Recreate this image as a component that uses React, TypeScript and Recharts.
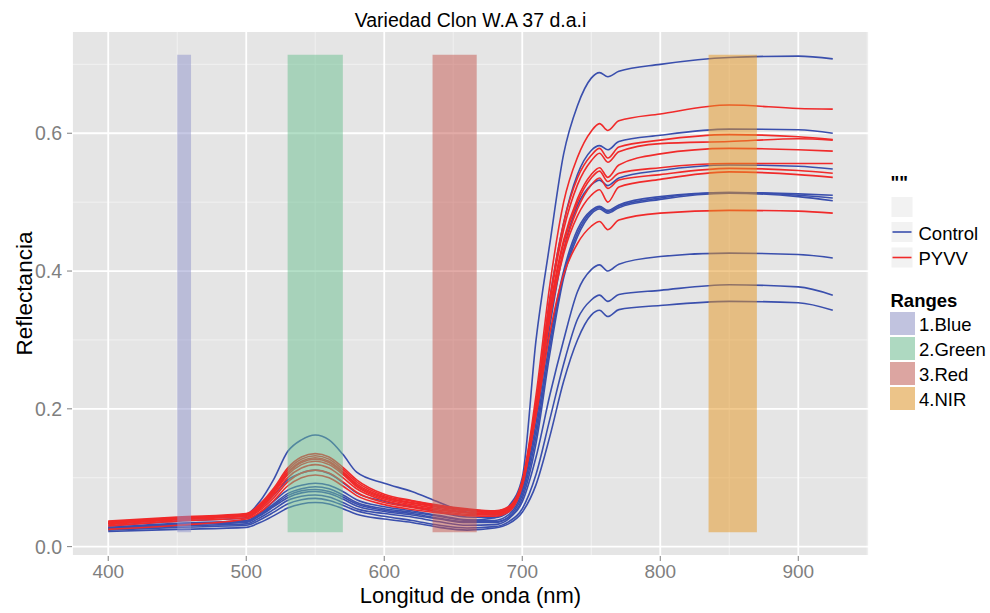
import { CartesianGrid, Line, LineChart, ReferenceArea, XAxis, YAxis } from "recharts";

const WAVELENGTHS = [
	400, 450, 500, 510, 520, 530, 540, 550, 560, 570, 580, 600, 620, 640, 660, 680,
	690, 700, 710, 720, 730, 740, 750, 756, 762, 770, 800, 850, 900, 925,
];

// Control plants
const CONTROL_1 = [
	0.028, 0.034, 0.038, 0.048, 0.062, 0.077, 0.084, 0.087, 0.084, 0.075, 0.064, 0.055, 0.05, 0.044, 0.038, 0.042,
	0.058, 0.1, 0.3, 0.44, 0.57, 0.64, 0.68, 0.688, 0.682, 0.69, 0.7, 0.71, 0.712, 0.708,
];
const CONTROL_2 = [
	0.034, 0.04, 0.047, 0.066, 0.098, 0.138, 0.155, 0.162, 0.155, 0.134, 0.108, 0.092, 0.08, 0.064, 0.05, 0.046,
	0.052, 0.09, 0.2, 0.36, 0.47, 0.54, 0.575, 0.582, 0.576, 0.588, 0.597, 0.606, 0.605, 0.6,
];
const CONTROL_3 = [
	0.03, 0.037, 0.042, 0.056, 0.075, 0.097, 0.107, 0.111, 0.106, 0.093, 0.078, 0.066, 0.058, 0.05, 0.043, 0.042,
	0.05, 0.085, 0.18, 0.32, 0.43, 0.495, 0.525, 0.532, 0.524, 0.535, 0.546, 0.554, 0.552, 0.548,
];
const CONTROL_4 = [
	0.027, 0.033, 0.037, 0.049, 0.066, 0.082, 0.089, 0.092, 0.089, 0.08, 0.068, 0.058, 0.052, 0.045, 0.039, 0.038,
	0.046, 0.08, 0.17, 0.3, 0.4, 0.46, 0.488, 0.494, 0.488, 0.496, 0.508, 0.514, 0.512, 0.51,
];
const CONTROL_5 = [
	0.026, 0.032, 0.035, 0.045, 0.058, 0.071, 0.078, 0.08, 0.077, 0.069, 0.059, 0.051, 0.046, 0.04, 0.035, 0.035,
	0.043, 0.075, 0.16, 0.29, 0.395, 0.455, 0.486, 0.492, 0.486, 0.494, 0.506, 0.514, 0.51, 0.506,
];
const CONTROL_6 = [
	0.025, 0.03, 0.033, 0.042, 0.054, 0.067, 0.073, 0.075, 0.072, 0.064, 0.055, 0.048, 0.043, 0.036, 0.031, 0.032,
	0.04, 0.07, 0.15, 0.28, 0.39, 0.45, 0.483, 0.49, 0.484, 0.492, 0.504, 0.513, 0.508, 0.502,
];
const CONTROL_7 = [
	0.027, 0.032, 0.036, 0.046, 0.06, 0.074, 0.081, 0.083, 0.08, 0.072, 0.062, 0.053, 0.048, 0.041, 0.036, 0.036,
	0.042, 0.065, 0.13, 0.22, 0.3, 0.37, 0.402, 0.409, 0.4, 0.41, 0.421, 0.426, 0.424, 0.419,
];
const CONTROL_8 = [
	0.024, 0.028, 0.031, 0.039, 0.05, 0.062, 0.068, 0.07, 0.067, 0.06, 0.052, 0.044, 0.038, 0.031, 0.027, 0.029,
	0.036, 0.055, 0.105, 0.185, 0.265, 0.33, 0.358, 0.365, 0.356, 0.366, 0.372, 0.38, 0.377, 0.365,
];
const CONTROL_9 = [
	0.022, 0.025, 0.028, 0.035, 0.045, 0.056, 0.062, 0.064, 0.062, 0.055, 0.047, 0.04, 0.035, 0.028, 0.024, 0.027,
	0.033, 0.05, 0.09, 0.16, 0.24, 0.3, 0.336, 0.343, 0.334, 0.344, 0.35, 0.356, 0.354, 0.343,
];

// PYVV infected plants
const PYVV_1 = [
	0.037, 0.043, 0.048, 0.062, 0.085, 0.114, 0.13, 0.135, 0.13, 0.115, 0.097, 0.076, 0.067, 0.06, 0.055, 0.052,
	0.058, 0.095, 0.22, 0.38, 0.5, 0.565, 0.603, 0.614, 0.604, 0.618, 0.628, 0.641, 0.636, 0.635,
];
const PYVV_2 = [
	0.036, 0.042, 0.047, 0.06, 0.083, 0.111, 0.127, 0.132, 0.127, 0.112, 0.094, 0.074, 0.066, 0.059, 0.054, 0.051,
	0.057, 0.095, 0.21, 0.36, 0.47, 0.535, 0.568, 0.578, 0.564, 0.58, 0.59, 0.598, 0.595, 0.591,
];
const PYVV_3 = [
	0.035, 0.041, 0.046, 0.059, 0.081, 0.108, 0.124, 0.129, 0.124, 0.109, 0.091, 0.072, 0.064, 0.058, 0.053, 0.05,
	0.056, 0.094, 0.205, 0.355, 0.46, 0.525, 0.56, 0.571, 0.558, 0.573, 0.585, 0.588, 0.592, 0.59,
];
const PYVV_4 = [
	0.034, 0.041, 0.046, 0.058, 0.08, 0.106, 0.122, 0.127, 0.122, 0.107, 0.089, 0.071, 0.063, 0.057, 0.052, 0.049,
	0.055, 0.092, 0.2, 0.345, 0.445, 0.505, 0.54, 0.55, 0.536, 0.554, 0.57, 0.578, 0.576, 0.574,
];
const PYVV_5 = [
	0.033, 0.04, 0.045, 0.057, 0.078, 0.104, 0.119, 0.124, 0.119, 0.105, 0.087, 0.069, 0.061, 0.055, 0.05, 0.048,
	0.054, 0.092, 0.2, 0.34, 0.44, 0.5, 0.535, 0.545, 0.53, 0.542, 0.55, 0.556, 0.556, 0.556,
];
const PYVV_6 = [
	0.032, 0.039, 0.044, 0.055, 0.075, 0.1, 0.114, 0.119, 0.114, 0.1, 0.084, 0.067, 0.059, 0.053, 0.049, 0.047,
	0.053, 0.09, 0.195, 0.335, 0.43, 0.49, 0.525, 0.535, 0.52, 0.532, 0.54, 0.549, 0.546, 0.542,
];
const PYVV_7 = [
	0.03, 0.037, 0.042, 0.053, 0.071, 0.094, 0.107, 0.111, 0.107, 0.094, 0.079, 0.064, 0.057, 0.051, 0.047, 0.046,
	0.052, 0.09, 0.195, 0.33, 0.425, 0.48, 0.51, 0.518, 0.5, 0.522, 0.533, 0.544, 0.54, 0.536,
];
const PYVV_8 = [
	0.025, 0.031, 0.04, 0.05, 0.067, 0.088, 0.1, 0.104, 0.1, 0.088, 0.074, 0.061, 0.054, 0.049, 0.045, 0.044,
	0.05, 0.088, 0.19, 0.31, 0.395, 0.44, 0.465, 0.472, 0.46, 0.474, 0.484, 0.488, 0.487, 0.484,
];

const GROUPS = ["Control", "PYVV"];
const GROUP_COLORS = ["#3a4fad", "#f02a2a"];

const SERIES = [
	...[CONTROL_1, CONTROL_2, CONTROL_3, CONTROL_4, CONTROL_5, CONTROL_6, CONTROL_7, CONTROL_8, CONTROL_9].map(
		(values, i) => ({ key: `control${i + 1}`, group: 0, values }),
	),
	...[PYVV_1, PYVV_2, PYVV_3, PYVV_4, PYVV_5, PYVV_6, PYVV_7, PYVV_8].map((values, i) => ({
		key: `pyvv${i + 1}`,
		group: 1,
		values,
	})),
];

// spectral ranges
const RANGE_NAMES = ["1.Blue", "2.Green", "3.Red", "4.NIR"];
const RANGE_FROM = [450, 530, 635, 835];
const RANGE_TO = [460, 570, 667, 870];
const RANGE_COLORS = ["#9094cc", "#6ac090", "#c65850", "#e69620"];
const RANGE_LOW = 0.021;
const RANGE_HIGH = 0.714;

const X_TICKS = [400, 500, 600, 700, 800, 900];
const X_MINOR = [450, 550, 650, 750, 850, 950];
const Y_TICKS = [0, 0.2, 0.4, 0.6];
const Y_MINOR = [0.1, 0.3, 0.5, 0.7];
const X_DOMAIN: [number, number] = [373.75, 951.25];
const Y_DOMAIN: [number, number] = [-0.0136, 0.7484];

const FONT = '"Liberation Sans", Arial, sans-serif';
const TICK_STYLE = { fill: "#7f7f7f", fontSize: 19, fontFamily: FONT };

export default function App() {
	const data = WAVELENGTHS.map((wl, i) => {
		const row: Record<string, number> = { wl };
		SERIES.forEach((s) => {
			row[s.key] = s.values[i];
		});
		return row;
	});

	return (
		<div
			style={{
				position: "absolute",
				left: 0,
				top: 0,
				width: 990,
				height: 613,
				background: "#ffffff",
				fontFamily: FONT,
			}}
		>
			<LineChart
				data={data}
				height={613}
				margin={{ top: 31, right: 121, bottom: 17, left: 12 }}
				width={990}
			>
				<XAxis
					allowDataOverflow
					dataKey="wl"
					domain={X_DOMAIN}
					hide
					ticks={X_MINOR}
					type="number"
					xAxisId="minor"
				/>
				<YAxis allowDataOverflow domain={Y_DOMAIN} hide ticks={Y_MINOR} type="number" yAxisId="minor" />
				<CartesianGrid fill="#e5e5e5" stroke="#f3f3f3" strokeWidth={0.9} xAxisId="minor" yAxisId="minor" />
				<CartesianGrid stroke="#ffffff" strokeWidth={1.8} />
				<XAxis
					allowDataOverflow
					axisLine={false}
					dataKey="wl"
					domain={X_DOMAIN}
					height={40}
					interval={0}
					tick={TICK_STYLE}
					tickLine={{ stroke: "#7f7f7f" }}
					tickMargin={4}
					tickSize={5}
					ticks={X_TICKS}
					type="number"
				/>
				<YAxis
					allowDataOverflow
					axisLine={false}
					domain={Y_DOMAIN}
					interval={0}
					tick={{ ...TICK_STYLE, fontSize: 19.5 }}
					tickFormatter={(v: number) => v.toFixed(1)}
					tickLine={{ stroke: "#7f7f7f" }}
					tickMargin={5}
					tickSize={5}
					ticks={Y_TICKS}
					type="number"
					width={60}
				/>
				{SERIES.map((s) => (
					<Line
						dataKey={s.key}
						dot={false}
						isAnimationActive={false}
						key={s.key}
						stroke={GROUP_COLORS[s.group]}
						strokeWidth={1.6}
						type="monotone"
					/>
				))}
				{RANGE_NAMES.map((name, i) => (
					<ReferenceArea
						fill={RANGE_COLORS[i]}
						fillOpacity={0.5}
						ifOverflow="visible"
						key={name}
						stroke="none"
						x1={RANGE_FROM[i]}
						x2={RANGE_TO[i]}
						y1={RANGE_LOW}
						y2={RANGE_HIGH}
						zIndex={1000}
					/>
				))}
			</LineChart>

			<svg
				height={613}
				style={{ position: "absolute", left: 0, top: 0, pointerEvents: "none" }}
				width={990}
			>
				<text fill="#000" fontFamily={FONT} fontSize={19.5} textAnchor="middle" x={470.5} y={26.5}>
					Variedad Clon W.A 37 d.a.i
				</text>
				<text fill="#000" fontFamily={FONT} fontSize={22} textAnchor="middle" x={470.5} y={602.5}>
					Longitud de onda (nm)
				</text>
				<text
					fill="#000"
					fontFamily={FONT}
					fontSize={22.5}
					textAnchor="middle"
					transform="translate(31.5,293.5) rotate(-90)"
				>
					Reflectancia
				</text>

				{/* colour legend */}
				<text fill="#000" fontFamily={FONT} fontSize={18.5} fontWeight="bold" x={890.5} y={188.5}>
					""
				</text>
				<rect fill="#f2f2f2" height={20} width={21} x={891.5} y={197} />
				{GROUPS.map((g, i) => {
					const y0 = 222 + i * 25.5;
					return (
						<g key={g}>
							<rect fill="#f2f2f2" height={20} width={21} x={891.5} y={y0} />
							<line
								stroke={GROUP_COLORS[i]}
								strokeWidth={1.6}
								x1={892.5}
								x2={911.5}
								y1={y0 + 10}
								y2={y0 + 10}
							/>
							<text fill="#000" fontFamily={FONT} fontSize={18.5} x={918.5} y={y0 + 17.5}>
								{g}
							</text>
						</g>
					);
				})}

				{/* ranges legend */}
				<text fill="#000" fontFamily={FONT} fontSize={18.5} fontWeight="bold" x={890.5} y={306.5}>
					Ranges
				</text>
				{RANGE_NAMES.map((name, i) => {
					const y0 = 312 + i * 25;
					return (
						<g key={name}>
							<rect fill="#f2f2f2" height={23} width={25} x={890} y={y0} />
							<rect fill={RANGE_COLORS[i]} fillOpacity={0.5} height={23} width={25} x={890} y={y0} />
							<text fill="#000" fontFamily={FONT} fontSize={18.5} x={919} y={y0 + 19}>
								{name}
							</text>
						</g>
					);
				})}
			</svg>
		</div>
	);
}
